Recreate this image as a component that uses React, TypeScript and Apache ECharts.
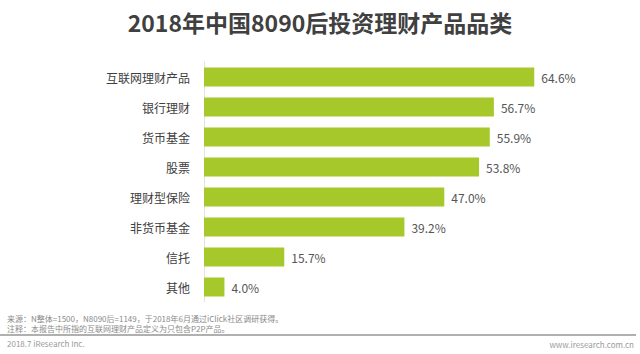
import React, { useEffect, useRef } from "react";
import * as echarts from "echarts";

const titleText = "2018年中国8090后投资理财产品品类";
const categories = ["互联网理财产品", "银行理财", "货币基金", "股票", "理财型保险", "非货币基金", "信托", "其他"];
const values = [64.6, 56.7, 55.9, 53.8, 47.0, 39.2, 15.7, 4.0];
const sourceNote = "来源：N整体=1500，N8090后=1149，于2018年6月通过iClick社区调研获得。";
const remarkNote = "注释：本报告中所指的互联网理财产品定义为只包含P2P产品。";
const footerLeft = "2018.7 iResearch Inc.";
const footerRight = "www.iresearch.com.cn";

const FONT = "'Noto Sans CJK SC', 'Noto Sans', sans-serif";

export default function App() {
  const ref = useRef<HTMLDivElement>(null);
  useEffect(() => {
    if (!ref.current) return;
    const chart = echarts.init(ref.current, null, { renderer: "svg" });
    chart.setOption({
      animation: false,
      backgroundColor: "#ffffff",
      textStyle: { fontFamily: FONT },
      grid: { left: 204, top: 62, width: 409, height: 240, containLabel: false },
      xAxis: {
        type: "value",
        min: 0,
        max: 80,
        show: false,
      },
      yAxis: {
        type: "category",
        data: categories,
        inverse: true,
        axisLine: { show: true, lineStyle: { color: "#e3e3e3", width: 1 } },
        axisTick: { show: false },
        axisLabel: { color: "#404040", fontSize: 12, margin: 14, fontFamily: FONT },
      },
      series: [
        {
          type: "bar",
          data: values,
          barWidth: 19,
          itemStyle: { color: "#a6c82b" },
          label: {
            show: true,
            position: "right",
            distance: 7,
            color: "#555555",
            fontSize: 12,
            fontFamily: FONT,
            formatter: (p: any) => p.value.toFixed(1) + "%",
          },
        },
      ],
      graphic: [
        {
          type: "text",
          left: "center",
          top: 10,
          style: { text: titleText, font: `bold 23px ${FONT}`, fill: "#404040" },
        },
        {
          type: "text",
          left: 7,
          top: 314,
          style: { text: sourceNote, fontSize: 8, fontFamily: FONT, lineHeight: 9, fill: "#8a8a8a" },
        },
        {
          type: "text",
          left: 7,
          top: 324,
          style: { text: remarkNote, fontSize: 8, fontFamily: FONT, lineHeight: 9, fill: "#8a8a8a" },
        },
        {
          type: "line",
          shape: { x1: 0, y1: 335, x2: 636, y2: 335 },
          style: { stroke: "#b0b0b0", lineWidth: 2 },
        },
        {
          type: "text",
          left: 7,
          top: 339,
          style: { text: footerLeft, font: `8px ${FONT}`, fill: "#9a9a9a" },
        },
        {
          type: "text",
          right: 6,
          top: 340,
          style: { text: footerRight, font: `8px ${FONT}`, fill: "#9a9a9a" },
        },
      ],
    });
    return () => chart.dispose();
  }, []);
  return <div ref={ref} style={{ width: 640, height: 354, position: "fixed", left: 0, top: 0 }} />;
}
